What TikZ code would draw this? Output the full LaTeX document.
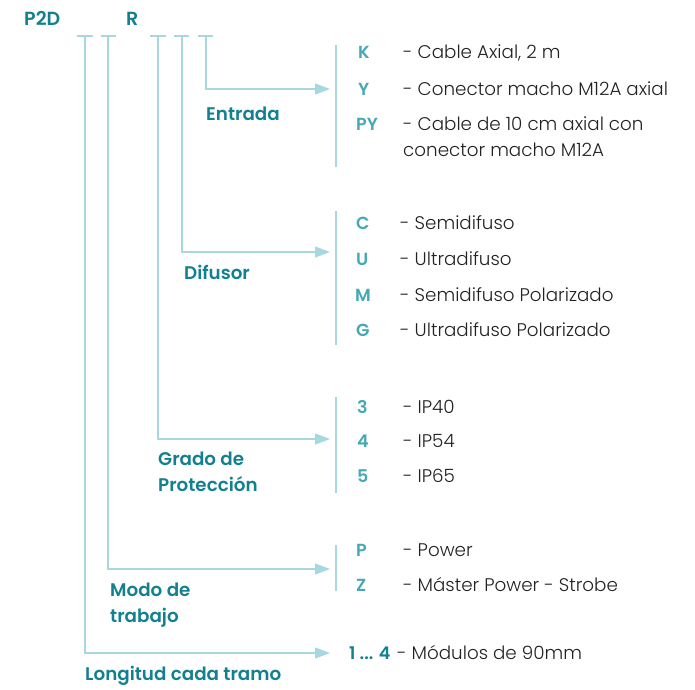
\documentclass[tikz,border=0pt]{standalone}
\usepackage{fontspec}
\setmainfont{Poppins}
\newfontfamily\medfont{Poppins SemiBold}
\newfontfamily\lightfont{Poppins Light}
\usetikzlibrary{arrows.meta}
\definecolor{dteal}{HTML}{13808F}
\definecolor{lteal}{HTML}{45A8B6}
\definecolor{lline}{HTML}{A8D8DF}
\definecolor{txt}{HTML}{222222}
\begin{document}
\begin{tikzpicture}[x=1pt,y=-1pt,
  lab/.style={anchor=base west,inner sep=0pt,text=dteal,font=\medfont\fontsize{18.3}{26}\selectfont,align=left},
  code/.style={anchor=base west,inner sep=0pt,text=lteal,font=\medfont\fontsize{17.5}{26}\selectfont},
  desc/.style={anchor=base west,inner sep=0pt,text=txt,font=\lightfont\fontsize{18.3}{26}\selectfont,align=left},
  tick/.style={draw=lline,line width=1.3pt},
  conn/.style={draw=lline,line width=1.3pt,-{Triangle[length=15pt,width=11pt]}},
  bar/.style={draw=lline,line width=1.3pt}]
\useasboundingbox (0,0) rectangle (695,689);
% header
\node[lab,font=\medfont\fontsize{19}{24}\selectfont] (p2d) at (24,25) {P2D};
\node[lab,font=\medfont\fontsize{19}{24}\selectfont] (r) at (126,25) {R};
% ticks
\draw[tick] (77,36) -- (93,36);
\draw[tick] (101,36) -- (116,36);
\draw[tick] (150,36) -- (166,36);
\draw[tick] (174,36) -- (189,36);
\draw[tick] (198,36) -- (213,36);
\coordinate (t1) at (85,36);
\coordinate (t2) at (108,36);
\coordinate (t3) at (158,36);
\coordinate (t4) at (182,36);
\coordinate (t5) at (206,36);
\coordinate (a1) at (330,653);
\coordinate (a2) at (330,569);
\coordinate (a3) at (330,439);
\coordinate (a4) at (330,252);
\coordinate (a5) at (330,89);
\draw[conn] (t5) |- (a5);
\draw[conn] (t4) |- (a4);
\draw[conn] (t3) |- (a3);
\draw[conn] (t2) |- (a2);
\draw[conn] (t1) |- (a1);
% bars
\draw[bar] (336,45) -- (336,167);
\draw[bar] (336,211) -- (336,345);
\draw[bar] (336,397) -- (336,493);
\draw[bar] (336,545) -- (336,591);
% labels
\node[lab] (entrada) at (206,120) {Entrada};
\node[lab] (difusor) at (184,279) {Difusor};
\node[lab] (grado) at (158,491) {Grado de\\Protección};
\node[lab] (modo) at (110,622) {Modo de\\trabajo};
\node[lab] (long) at (85,680) {Longitud cada tramo};
% Entrada options
\node[code] (k) at (358,58) {K};
\node[desc] (kd) at (403,58) {- Cable Axial, 2 m};
\node[code] (y) at (358,95) {Y};
\node[desc] (yd) at (403,95) {- Conector macho M12A axial};
\node[code] (py) at (356,130) {PY};
\node[desc] (pyd) at (403,156) {- Cable de 10 cm axial con\\conector macho M12A};
% Difusor options
\node[code] (c) at (356,229) {C};
\node[desc] (cd) at (400,229) {- Semidifuso};
\node[code] (u) at (356,265) {U};
\node[desc] (ud) at (400,265) {- Ultradifuso};
\node[code] (m) at (355,301) {M};
\node[desc] (md) at (400,301) {- Semidifuso Polarizado};
\node[code] (g) at (356,336) {G};
\node[desc] (gd) at (400,336) {- Ultradifuso Polarizado};
% Grado options
\node[code] (n3) at (357,413) {3};
\node[desc] (n3d) at (403,413) {- IP40};
\node[code] (n4) at (357,447) {4};
\node[desc] (n4d) at (403,447) {- IP54};
\node[code] (n5) at (357,482) {5};
\node[desc] (n5d) at (403,482) {- IP65};
% Modo options
\node[code] (p) at (356,556) {P};
\node[desc] (pd) at (403,556) {- Power};
\node[code] (z) at (356,591) {Z};
\node[desc] (zd) at (403,591) {- Máster Power - Strobe};
% Longitud
\node[code,text=dteal] (n14) at (349,659) {1 ... 4};
\node[desc] (n14d) at (397,659) {- Módulos de 90mm};
\end{tikzpicture}
\end{document}
